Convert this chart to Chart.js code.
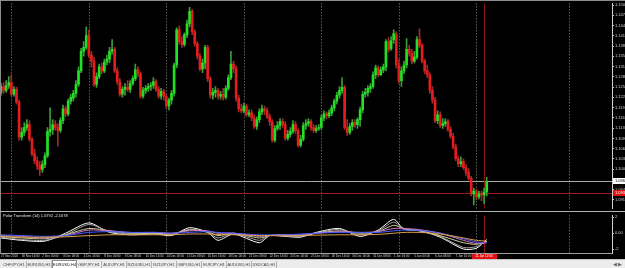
<!DOCTYPE html>
<html lang="en">
<head>
<meta charset="UTF-8">
<title>EURUSD,H4</title>
<script src="https://cdn.jsdelivr.net/npm/chart.js"></script>
<style>
    * { margin: 0; padding: 0; box-sizing: border-box; }
    body { width: 625px; height: 268px; background: #000; overflow: hidden; position: relative; font-family: Arial, sans-serif; }
    canvas { position: absolute; left: 0; }
    #mainChart { top: 0; }
    #indChart { top: 212px; }
    .line { position: absolute; background: #8c8c8c; }
    .indLabel { position: absolute; left: 3px; top: 214px; font-size: 4px; line-height: 4px; color: #e6e6e6; white-space: nowrap; }
    .tabs { position: absolute; left: 0; top: 259px; width: 625px; height: 9px; background: #ececec; border-top: 1px solid #c4c4c4; }
    .tab { position: absolute; top: 1px; height: 7px; width: 25px; font-size: 4px; line-height: 7px; color: #444; text-align: center; border-right: 1px solid #b4b4b4; white-space: nowrap; overflow: hidden; }
    .tab.active { background: #fff; border: 1px solid #8c8c8c; top: 0; height: 9px; color: #111; }
    .arrows { position: absolute; right: 3px; top: 0; font-size: 5px; line-height: 8px; color: #666; }
</style>
</head>
<body>
<canvas id="mainChart" width="625" height="212"></canvas>
<canvas id="indChart" width="625" height="47"></canvas>
<div class="line" style="left:0;top:0;width:625px;height:1px;"></div>
<div class="line" style="left:0;top:0;width:1px;height:254px;"></div>
<div class="line" style="left:0;top:211px;width:625px;height:1px;background:#b4b4b4;"></div>
<div class="indLabel">Polar Transform (14) 1.6792 -2.1678</div>
<div class="tabs" id="tabs"><span class="arrows">&#9664; &#9654;</span></div>

<script>
// EURUSD H4 candles (one entry per bar, left to right)
const opens = [
    1.1240,1.1258,1.1246,1.1261,1.1270,1.1234,1.1249,1.1210,1.1102,1.1117,
    1.1132,1.1141,1.1096,1.1051,1.1030,1.1015,1.1003,1.1018,1.1045,1.1120,
    1.1126,1.1141,1.1132,1.1123,1.1153,1.1189,1.1174,1.1213,1.1222,1.1237,
    1.1264,1.1306,1.1366,1.1378,1.1414,1.1354,1.1336,1.1264,1.1288,1.1318,
    1.1306,1.1333,1.1342,1.1366,1.1372,1.1306,1.1273,1.1234,1.1249,1.1255,
    1.1249,1.1267,1.1282,1.1309,1.1297,1.1228,1.1246,1.1252,1.1258,1.1261,
    1.1273,1.1249,1.1228,1.1243,1.1228,1.1198,1.1216,1.1237,1.1324,1.1432,
    1.1396,1.1387,1.1417,1.1450,1.1489,1.1426,1.1390,1.1351,1.1312,1.1330,
    1.1378,1.1282,1.1231,1.1240,1.1246,1.1228,1.1234,1.1225,1.1252,1.1285,
    1.1327,1.1312,1.1222,1.1189,1.1183,1.1198,1.1171,1.1177,1.1162,1.1135,
    1.1156,1.1180,1.1189,1.1183,1.1165,1.1150,1.1093,1.1129,1.1138,1.1150,
    1.1141,1.1099,1.1111,1.1120,1.1141,1.1123,1.1078,1.1096,1.1138,1.1144,
    1.1150,1.1132,1.1123,1.1129,1.1132,1.1162,1.1174,1.1168,1.1177,1.1192,
    1.1213,1.1231,1.1246,1.1255,1.1132,1.1117,1.1135,1.1147,1.1141,1.1156,
    1.1186,1.1234,1.1240,1.1252,1.1258,1.1294,1.1315,1.1294,1.1309,1.1318,
    1.1396,1.1375,1.1402,1.1417,1.1324,1.1276,1.1306,1.1324,1.1372,1.1360,
    1.1336,1.1348,1.1402,1.1384,1.1336,1.1306,1.1294,1.1246,1.1216,1.1153,
    1.1171,1.1138,1.1144,1.1150,1.1126,1.1105,1.1072,1.1036,1.1021,1.1027,
    1.1009,1.0994,1.0976,1.0928,1.0937,1.0919,1.0928,1.0925,1.0934
];
const highs = [
    1.1267,1.1270,1.1276,1.1288,1.1294,1.1258,1.1255,1.1216,1.1132,1.1147,
    1.1156,1.1153,1.1102,1.1066,1.1042,1.1027,1.1030,1.1054,1.1132,1.1192,
    1.1156,1.1153,1.1144,1.1162,1.1201,1.1198,1.1219,1.1234,1.1246,1.1276,
    1.1318,1.1375,1.1396,1.1441,1.1432,1.1366,1.1348,1.1300,1.1327,1.1330,
    1.1342,1.1354,1.1378,1.1402,1.1378,1.1315,1.1282,1.1258,1.1267,1.1276,
    1.1276,1.1291,1.1327,1.1318,1.1303,1.1255,1.1261,1.1267,1.1270,1.1285,
    1.1279,1.1258,1.1252,1.1249,1.1234,1.1222,1.1246,1.1330,1.1438,1.1444,
    1.1411,1.1423,1.1462,1.1501,1.1495,1.1432,1.1396,1.1360,1.1342,1.1384,
    1.1384,1.1288,1.1252,1.1258,1.1252,1.1243,1.1252,1.1261,1.1294,1.1366,
    1.1336,1.1321,1.1231,1.1204,1.1207,1.1204,1.1186,1.1186,1.1171,1.1165,
    1.1189,1.1201,1.1198,1.1192,1.1174,1.1156,1.1138,1.1150,1.1159,1.1159,
    1.1150,1.1123,1.1132,1.1153,1.1150,1.1129,1.1108,1.1147,1.1156,1.1159,
    1.1156,1.1141,1.1138,1.1141,1.1171,1.1183,1.1180,1.1186,1.1201,1.1219,
    1.1240,1.1258,1.1285,1.1261,1.1156,1.1144,1.1156,1.1156,1.1162,1.1195,
    1.1243,1.1252,1.1261,1.1267,1.1303,1.1324,1.1321,1.1318,1.1327,1.1402,
    1.1408,1.1411,1.1432,1.1426,1.1342,1.1318,1.1336,1.1405,1.1384,1.1372,
    1.1366,1.1411,1.1435,1.1390,1.1342,1.1324,1.1300,1.1258,1.1225,1.1183,
    1.1180,1.1159,1.1159,1.1156,1.1135,1.1114,1.1081,1.1045,1.1042,1.1036,
    1.1018,1.1006,1.0982,1.0946,1.0943,1.0937,1.0937,1.0946,1.0979
];
const lows = [
    1.1231,1.1237,1.1240,1.1252,1.1228,1.1228,1.1204,1.1093,1.1093,1.1108,
    1.1123,1.1090,1.1045,1.1021,1.1003,1.0985,1.0994,1.1009,1.1039,1.1105,
    1.1111,1.1123,1.1075,1.1117,1.1144,1.1165,1.1168,1.1204,1.1213,1.1225,
    1.1258,1.1300,1.1351,1.1372,1.1348,1.1318,1.1258,1.1255,1.1282,1.1297,
    1.1300,1.1324,1.1330,1.1357,1.1300,1.1264,1.1228,1.1225,1.1231,1.1243,
    1.1240,1.1261,1.1276,1.1288,1.1222,1.1222,1.1237,1.1243,1.1246,1.1252,
    1.1243,1.1222,1.1219,1.1216,1.1189,1.1186,1.1204,1.1228,1.1315,1.1387,
    1.1378,1.1381,1.1408,1.1441,1.1417,1.1381,1.1342,1.1306,1.1300,1.1312,
    1.1273,1.1222,1.1219,1.1225,1.1219,1.1219,1.1216,1.1219,1.1246,1.1279,
    1.1300,1.1213,1.1180,1.1177,1.1177,1.1165,1.1165,1.1153,1.1129,1.1126,
    1.1147,1.1171,1.1171,1.1159,1.1138,1.1087,1.1087,1.1123,1.1126,1.1132,
    1.1093,1.1093,1.1102,1.1114,1.1114,1.1072,1.1072,1.1090,1.1126,1.1135,
    1.1123,1.1117,1.1117,1.1123,1.1126,1.1153,1.1159,1.1162,1.1168,1.1183,
    1.1204,1.1222,1.1237,1.1126,1.1108,1.1111,1.1123,1.1132,1.1129,1.1135,
    1.1177,1.1225,1.1228,1.1240,1.1252,1.1282,1.1288,1.1291,1.1300,1.1306,
    1.1363,1.1369,1.1390,1.1315,1.1267,1.1258,1.1297,1.1315,1.1351,1.1327,
    1.1330,1.1342,1.1378,1.1330,1.1297,1.1285,1.1237,1.1207,1.1147,1.1144,
    1.1132,1.1129,1.1135,1.1120,1.1099,1.1066,1.1030,1.1012,1.1012,1.1003,
    1.0985,1.0970,1.0922,1.0895,1.0910,1.0913,1.0907,1.0898,1.0922
];
const closes = [
    1.1258,1.1246,1.1261,1.1270,1.1234,1.1249,1.1210,1.1102,1.1117,1.1132,
    1.1141,1.1096,1.1051,1.1030,1.1015,1.1003,1.1018,1.1045,1.1120,1.1126,
    1.1141,1.1132,1.1123,1.1153,1.1189,1.1174,1.1213,1.1225,1.1237,1.1264,
    1.1306,1.1366,1.1378,1.1414,1.1354,1.1336,1.1264,1.1288,1.1318,1.1306,
    1.1333,1.1342,1.1366,1.1372,1.1306,1.1273,1.1234,1.1249,1.1255,1.1249,
    1.1267,1.1282,1.1309,1.1297,1.1228,1.1246,1.1252,1.1258,1.1261,1.1273,
    1.1249,1.1228,1.1243,1.1228,1.1198,1.1216,1.1237,1.1324,1.1432,1.1396,
    1.1387,1.1417,1.1450,1.1489,1.1426,1.1390,1.1351,1.1312,1.1330,1.1378,
    1.1282,1.1231,1.1240,1.1246,1.1228,1.1234,1.1225,1.1252,1.1285,1.1327,
    1.1312,1.1222,1.1189,1.1183,1.1198,1.1171,1.1177,1.1162,1.1135,1.1156,
    1.1180,1.1189,1.1183,1.1165,1.1150,1.1093,1.1129,1.1138,1.1150,1.1141,
    1.1099,1.1111,1.1120,1.1141,1.1123,1.1078,1.1096,1.1138,1.1144,1.1150,
    1.1132,1.1123,1.1129,1.1132,1.1162,1.1174,1.1168,1.1177,1.1192,1.1213,
    1.1231,1.1246,1.1255,1.1132,1.1117,1.1135,1.1147,1.1141,1.1156,1.1186,
    1.1234,1.1240,1.1252,1.1258,1.1294,1.1315,1.1294,1.1309,1.1318,1.1396,
    1.1372,1.1399,1.1420,1.1324,1.1276,1.1306,1.1324,1.1372,1.1360,1.1336,
    1.1348,1.1402,1.1384,1.1336,1.1306,1.1294,1.1246,1.1216,1.1153,1.1171,
    1.1138,1.1144,1.1150,1.1126,1.1105,1.1072,1.1036,1.1021,1.1027,1.1009,
    1.0994,1.0976,1.0928,1.0937,1.0919,1.0928,1.0925,1.0934,1.0967
];

// price scale labels on the right
const priceTicks = [1.1508, 1.14765, 1.1445, 1.14135, 1.1382, 1.13505, 1.1319, 1.12875, 1.1256, 1.12245,
                    1.1193, 1.11615, 1.1130, 1.10985, 1.1067, 1.10355, 1.1004, 1.09725, 1.0941, 1.09095];
const bidPrice = 1.0967;
const redLevel = 1.0931;

// time axis: label every 8 bars, weekly separators
const timeBars = [0, 8, 16, 24, 32, 40, 48, 56, 64, 72, 80, 88, 96, 104, 112, 120, 128, 136, 144, 152, 160, 168, 176];
const timeLabels = ['27 Nov 2020', '30 Nov 16:00', '2 Dec 00:00', '3 Dec 08:00', '4 Dec 16:00', '8 Dec 00:00',
    '9 Dec 08:00', '10 Dec 16:00', '14 Dec 00:00', '15 Dec 08:00', '16 Dec 16:00', '18 Dec 00:00',
    '21 Dec 08:00', '22 Dec 16:00', '24 Dec 00:00', '25 Dec 08:00', '28 Dec 16:00', '30 Dec 00:00',
    '31 Dec 08:00', '1 Jan 16:00', '5 Jan 00:00', '6 Jan 08:00', '7 Jan 16:00'];
const weekBars = [4, 34, 64, 94, 124, 154, 184, 220];
const markerBar = 187;
const markerLabel = '11 Jan 12:00';

// Polar Transform (14) lines, sampled at these bars
const indBars = [0, 8, 17, 25, 34, 42, 50, 60, 66, 73, 80, 84, 90, 100, 104, 110, 116, 122, 131, 139, 146, 152, 156, 162, 170, 179, 184, 188];
const ptWhite  = [-0.6, -0.9, -1.0, 0.0, 1.3, 0.1, -0.2, -0.1, -0.3, 0.7, 0.1, -0.9, -0.1, -1.2, -0.3, -0.4, -0.5, 0.1, 0.6, -0.4, 0.4, 1.75, 0.5, 0.35, -0.5, -2.0, -1.9, -0.8];
const ptGray   = [-0.5, -0.8, -0.9, -0.2, 1.1, 0.2, -0.1, 0.0, -0.2, 0.5, 0.1, -0.6, 0.0, -0.9, -0.3, -0.3, -0.4, 0.0, 0.5, -0.2, 0.3, 1.4, 0.5, 0.3, -0.4, -1.8, -1.7, -1.0];
const ptKhaki  = [-0.4, -0.6, -0.7, -0.2, 0.6, 0.3, 0.0, 0.0, -0.1, 0.4, 0.2, -0.3, 0.0, -0.6, -0.3, -0.2, -0.3, 0.0, 0.3, 0.0, 0.2, 1.0, 0.6, 0.3, -0.3, -1.2, -1.4, -1.1];
const ptViolet = [-0.3, -0.4, -0.6, -0.3, 0.4, 0.3, 0.1, 0.1, 0.0, 0.3, 0.3, 0.0, 0.0, -0.4, -0.3, -0.2, -0.2, 0.0, 0.2, 0.1, 0.2, 0.6, 0.6, 0.45, 0.0, -0.9, -1.3, -1.2];
const ptBlue   = [-0.2, -0.3, -0.4, -0.3, 0.1, 0.2, 0.1, 0.1, 0.0, 0.1, 0.2, 0.1, 0.0, -0.2, -0.2, -0.2, -0.1, 0.0, 0.1, 0.1, 0.1, 0.3, 0.4, 0.35, 0.0, -0.7, -1.1, -1.2];
const ptOrange = [-0.4, -0.5, -0.5, -0.45, -0.3, -0.2, -0.2, -0.2, -0.2, -0.1, -0.1, -0.15, -0.2, -0.3, -0.3, -0.35, -0.3, -0.25, -0.2, -0.2, -0.15, 0.0, 0.1, 0.1, -0.1, -0.6, -0.9, -1.0];

const tabNames = ['CHFJPY,H1', 'EURUSD,H1', 'EURUSD,H4', 'GBPJPY,H1', 'AUDJPY,H1', 'NZDUSD,H1',
                  'NZDJPY,H1', 'GBPUSD,H1', 'EURJPY,H1', 'AUDUSD,H1', 'USDCAD,H1'];
const activeTab = 2;

const xMax = 236.5;
Chart.defaults.font.family = 'Arial, sans-serif';

const bars = opens.map((_, i) => i);
const up = bars.map(i => closes[i] >= opens[i]);
const bodyColors = up.map(u => u ? '#22e022' : '#e41c1c');
const wickColors = up.map(u => u ? '#3a9c3a' : '#a02a2a');

function weekGrid(ctx, x, top, bottom) {
    ctx.strokeStyle = '#8c8c8c';
    ctx.lineWidth = 1;
    ctx.setLineDash([1, 2]);
    weekBars.forEach(b => {
        const px = Math.round(x.getPixelForValue(b)) + 0.5;
        ctx.beginPath(); ctx.moveTo(px, top); ctx.lineTo(px, bottom); ctx.stroke();
    });
    ctx.setLineDash([]);
}

function markerLine(ctx, x, top, bottom) {
    const px = Math.round(x.getPixelForValue(markerBar)) + 0.5;
    ctx.strokeStyle = '#8c1212';
    ctx.beginPath(); ctx.moveTo(px, top); ctx.lineTo(px, bottom); ctx.stroke();
}

const mainOverlay = {
    id: 'mainOverlay',
    beforeDatasetsDraw(chart) {
        const { ctx, chartArea: a, scales: { x, y } } = chart;
        ctx.save();
        weekGrid(ctx, x, a.top, a.bottom);
        [[bidPrice, '#a8a8a8'], [redLevel, '#a01c1c']].forEach(([v, c]) => {
            const py = Math.round(y.getPixelForValue(v)) + 0.5;
            ctx.strokeStyle = c;
            ctx.beginPath(); ctx.moveTo(a.left, py); ctx.lineTo(a.right, py); ctx.stroke();
        });
        markerLine(ctx, x, a.top, a.bottom);
        ctx.restore();
    },
    afterDraw(chart) {
        const { ctx, chartArea: a, scales: { y } } = chart;
        ctx.save();
        ctx.font = '4px Arial';
        ctx.textBaseline = 'middle';
        [[bidPrice, '#ffffff', '#000000'], [redLevel, '#e01010', '#ffffff']].forEach(([v, bg, fg]) => {
            const py = Math.round(y.getPixelForValue(v));
            ctx.fillStyle = bg;
            ctx.fillRect(a.right + 1, py - 3, 13, 6);
            ctx.fillStyle = fg;
            ctx.fillText(v.toFixed(4), a.right + 3, py);
        });
        ctx.restore();
    }
};

const indOverlay = {
    id: 'indOverlay',
    beforeDatasetsDraw(chart) {
        const { ctx, chartArea: a, scales: { x } } = chart;
        ctx.save();
        weekGrid(ctx, x, a.top, a.bottom);
        markerLine(ctx, x, a.top, a.bottom);
        ctx.restore();
    },
    afterDraw(chart) {
        const { ctx, chartArea: a, scales: { x } } = chart;
        const px = Math.round(x.getPixelForValue(markerBar));
        ctx.save();
        ctx.fillStyle = '#e01010';
        ctx.fillRect(px - 12, a.bottom + 1, 25, 5);
        ctx.fillStyle = '#ffffff';
        ctx.font = '3px Arial';
        ctx.textAlign = 'center';
        ctx.textBaseline = 'middle';
        ctx.fillText(markerLabel, px, a.bottom + 3.5);
        ctx.restore();
    }
};

new Chart(document.getElementById('mainChart'), {
    type: 'bar',
    data: {
        datasets: [
            { label: 'body', data: bars.map(i => ({ x: i, y: [opens[i], closes[i]] })), backgroundColor: bodyColors,
              barThickness: 2, minBarLength: 1, grouped: false, order: 0 },
            { label: 'wick', data: bars.map(i => ({ x: i, y: [lows[i], highs[i]] })), backgroundColor: wickColors,
              barThickness: 1, grouped: false, order: 1 }
        ]
    },
    options: {
        responsive: false, animation: false, devicePixelRatio: 1,
        layout: { padding: { left: 1, top: 1, bottom: 1, right: 0 } },
        plugins: { legend: { display: false }, tooltip: { enabled: false } },
        scales: {
            x: { type: 'linear', display: false, min: 0, max: xMax, offset: false, bounds: 'data', grid: { offset: false } },
            y: {
                position: 'right', min: 1.0883, max: 1.1513, bounds: 'data',
                afterBuildTicks: s => { s.ticks = priceTicks.map(v => ({ value: v })); },
                afterFit: s => { s.width = 13; },
                ticks: { font: { size: 4 }, color: '#d4d4d4', padding: 1, callback: v => v.toFixed(4) },
                grid: { drawOnChartArea: false, tickLength: 2, color: '#c8c8c8' },
                border: { color: '#d0d0d0' }
            }
        }
    },
    plugins: [mainOverlay]
});

const ptLine = (vals, color) => ({
    type: 'line', data: indBars.map((b, k) => ({ x: b, y: vals[k] })),
    borderColor: color, borderWidth: 1, pointRadius: 0, tension: 0.25
});

new Chart(document.getElementById('indChart'), {
    type: 'line',
    data: {
        datasets: [
            ptLine(ptOrange, '#e0a048'),
            ptLine(ptBlue, '#4a5cff'),
            ptLine(ptViolet, '#d078c8'),
            ptLine(ptKhaki, '#cfcf96'),
            ptLine(ptGray, '#a4a4a4'),
            ptLine(ptWhite, '#ffffff')
        ]
    },
    options: {
        responsive: false, animation: false, devicePixelRatio: 1,
        layout: { padding: { left: 1, top: 1, bottom: 0, right: 0 } },
        plugins: { legend: { display: false }, tooltip: { enabled: false } },
        scales: {
            x: {
                type: 'linear', min: 0, max: xMax, offset: false, bounds: 'data',
                afterBuildTicks: s => { s.ticks = timeBars.map(v => ({ value: v })); },
                afterFit: s => { s.height = 6; },
                ticks: { autoSkip: false, maxRotation: 0, align: 'start', padding: 0, font: { size: 3 }, color: '#cfcfcf',
                         callback: (v, i) => timeLabels[i] },
                grid: { drawOnChartArea: false, tickLength: 1, color: '#9a9a9a' },
                border: { color: '#a0a0a0' }
            },
            y: {
                position: 'right', min: -2.5, max: 2.25, bounds: 'data',
                afterBuildTicks: s => { s.ticks = [2, 0, -2].map(v => ({ value: v })); },
                afterFit: s => { s.width = 13; },
                ticks: { font: { size: 4 }, color: '#d4d4d4', padding: 1, callback: v => v === 0 ? '0.00' : String(v) },
                grid: { drawOnChartArea: false, tickLength: 2, color: '#c8c8c8' },
                border: { color: '#d0d0d0' }
            }
        }
    },
    plugins: [indOverlay]
});

const tabBar = document.getElementById('tabs');
tabNames.forEach((name, k) => {
    const t = document.createElement('div');
    t.className = 'tab' + (k === activeTab ? ' active' : '');
    t.style.left = (2 + 25 * k) + 'px';
    t.textContent = name;
    tabBar.appendChild(t);
});
</script>
</body>
</html>
